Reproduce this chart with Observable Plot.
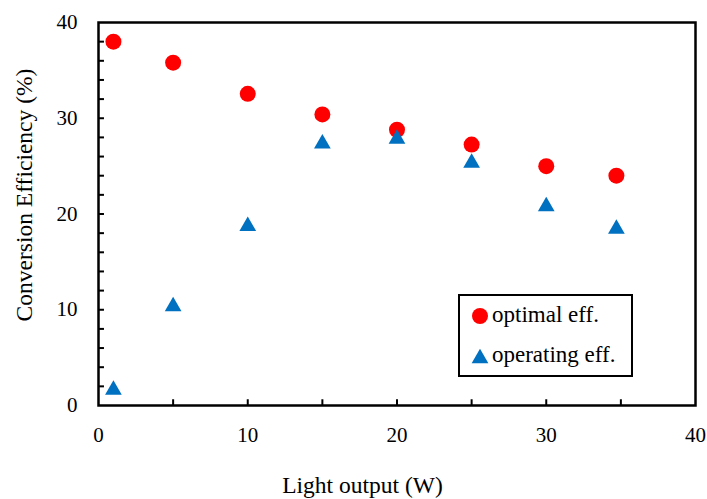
<!DOCTYPE html>
<html>
<head>
<meta charset="utf-8">
<script src="https://cdn.jsdelivr.net/npm/d3@7"></script>
<script src="https://cdn.jsdelivr.net/npm/@observablehq/plot@0.6"></script>
<style>
  html, body { margin: 0; padding: 0; background: #fff; }
  #chart svg { display: block; }
</style>
</head>
<body>
<div id="chart"></div>
<script>
// Data
const lightOutput = [1, 5, 10, 15, 20, 25, 30, 34.7];
const optimalEff = [38.0, 35.8, 32.55, 30.4, 28.8, 27.25, 25.0, 24.0];
const operatingEff = [1.9, 10.6, 19.0, 27.6, 28.1, 25.6, 21.05, 18.7];
const xMajorTicks = [0, 10, 20, 30, 40];
const xMinorTicks = [5, 10, 15, 20, 25, 30, 35];
const yMajorTicks = [0, 10, 20, 30, 40];
const yMinorTicks = [2, 4, 6, 8, 10, 12, 14, 16, 18, 20, 22, 24, 26, 28, 30, 32, 34, 36, 38];
const seriesNames = ["optimal eff.", "operating eff."];
const xTitle = "Light output (W)";
const yTitle = "Conversion Efficiency (%)";

const optimal = lightOutput.map((x, i) => ({x, y: optimalEff[i]}));
const operating = lightOutput.map((x, i) => ({x, y: operatingEff[i]}));

const W = 707, H = 499;
const mL = 98, mR = 12, mT = 22, mB = 94;
const font = "'Liberation Serif', 'Times New Roman', serif";

const chart = Plot.plot({
  width: W,
  height: H,
  marginLeft: mL,
  marginRight: mR,
  marginTop: mT,
  marginBottom: mB,
  style: {fontFamily: font, fontSize: "21px", color: "#000", background: "#fff"},
  x: {domain: [0, 40]},
  y: {domain: [0, 40]},
  marks: [
    Plot.axisX({ticks: xMajorTicks, tickSize: 0, tickPadding: 22, label: null, fontSize: 21, tickFormat: d => String(d)}),
    Plot.axisY({ticks: yMajorTicks, tickSize: 0, tickPadding: 21, label: null, fontSize: 21, tickFormat: d => String(d)}),
    Plot.ruleX(xMinorTicks, {x: d => d, y1: 0, y2: 0.6, stroke: "#000", strokeWidth: 2}),
    Plot.ruleY(yMinorTicks, {y: d => d, x1: 0, x2: 0.4, stroke: "#000", strokeWidth: 2}),
    Plot.frame({stroke: "#000", strokeWidth: 2.5}),
    Plot.dot(optimal, {x: "x", y: "y", r: 8, fill: "#FF0000", stroke: "none", symbol: "circle"}),
    Plot.dot(operating, {x: "x", y: "y", r: 6.2, fill: "#0070C0", stroke: "none", symbol: "triangle", dy: 2.5})
  ]
});

document.getElementById("chart").appendChild(chart);

const svg = d3.select(chart);
const txt = (sel) => sel.style("font-family", font).attr("fill", "#000");
// axis titles
svg.append("text")
  .attr("x", 362.5).attr("y", 493)
  .attr("text-anchor", "middle")
  .call(txt).style("font-size", "23.5px")
  .text(xTitle);
svg.append("text")
  .attr("transform", "translate(32,195) rotate(-90)")
  .attr("text-anchor", "middle")
  .call(txt).style("font-size", "23.5px")
  .text(yTitle);

// legend
const lg = svg.append("g");
lg.append("rect").attr("x", 459).attr("y", 295).attr("width", 173).attr("height", 81)
  .attr("fill", "#fff").attr("stroke", "#000").attr("stroke-width", 2);
lg.append("circle").attr("cx", 480).attr("cy", 316).attr("r", 8).attr("fill", "#FF0000");
lg.append("path").attr("transform", "translate(480,358.5)")
  .attr("d", d3.symbol(d3.symbolTriangle, Math.PI * 6.2 * 6.2)())
  .attr("fill", "#0070C0");
lg.append("text").attr("x", 492).attr("y", 322).attr("text-anchor", "start")
  .call(txt).style("font-size", "23px")
  .text(seriesNames[0]);
lg.append("text").attr("x", 492).attr("y", 362).attr("text-anchor", "start")
  .call(txt).style("font-size", "23px")
  .text(seriesNames[1]);
</script>
</body>
</html>
